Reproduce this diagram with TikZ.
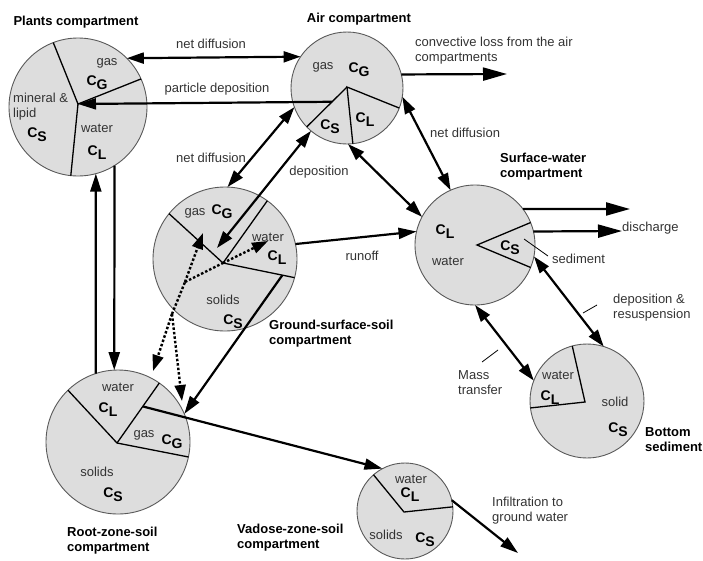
\documentclass[tikz,border=0pt]{standalone}
\usepackage{fontspec}
\setmainfont{Liberation Sans}
\usetikzlibrary{arrows.meta,calc}
\definecolor{cfill}{RGB}{221,221,221}
\newcommand\Cx[1]{C\raisebox{-4pt}{#1}}
\begin{document}
\begin{tikzpicture}[x=1pt,y=-1pt,
 comp/.style={circle, draw=black!65, line width=0.9pt, fill=cfill, inner sep=0pt, outer sep=0pt},
 sect/.style={line width=1.3pt, black},
 flow/.style={line width=2.2pt, -{Triangle[length=18pt,width=11pt]}},
 flowtwo/.style={line width=2.2pt, {Triangle[length=17pt,width=11pt]}-{Triangle[length=17pt,width=11pt]}},
 outflow/.style={line width=2.2pt, -{Triangle[length=24pt,width=13pt]}},
 dotflow/.style={line width=2.4pt, dash pattern=on 2.5pt off 2pt, -{Triangle[length=16pt,width=11pt]}},
 dotline/.style={line width=2.4pt, dash pattern=on 2.5pt off 2pt},
 tickline/.style={line width=0.8pt},
 lab/.style={font=\fontsize{13}{15}\selectfont, text=black!80, inner sep=0pt, align=left},
 ttl/.style={font=\fontsize{13}{15}\selectfont\bfseries, inner sep=0pt, align=left},
 cc/.style={font=\fontsize{14}{16}\selectfont\bfseries, inner sep=0pt},
]
\useasboundingbox (0,0) rectangle (703,560);
% compartments
\node[comp, minimum size=138pt] (plants) at (78,107) {};
\node[comp, minimum size=112pt] (air) at (347,88) {};
\node[comp, minimum size=144pt] (ground) at (225,259) {};
\node[comp, minimum size=120pt] (surface) at (475,245) {};
\node[comp, minimum size=114pt] (bottom) at (587,401) {};
\node[comp, minimum size=144pt] (root) at (118,442) {};
\node[comp, minimum size=96pt] (vadose) at (405,511) {};
% pie vertices
\coordinate (pv) at (78,104);
\coordinate (av) at (347,87);
\coordinate (gv) at (223,263);
\coordinate (sv) at (477,245);
\coordinate (bv) at (585,402);
\coordinate (rv) at (117,443);
\coordinate (vv) at (404,512);
% sectors
\draw[sect] (plants.111) -- (pv) -- (plants.24);
\draw[sect] (pv) -- (plants.264);
\draw[sect] (air.-21) -- (av) -- (air.-84);
\draw[sect] (av) -- (air.224);
\draw[sect] (ground.141) -- (gv) -- (ground.-15);
\draw[sect] (gv) -- (ground.54);
\draw[sect] (surface.22) -- (sv) -- (surface.-22);
\draw[sect] (bottom.105) -- (bv) -- (bottom.187);
\draw[sect] (root.134) -- (rv) -- (root.-12);
\draw[sect] (rv) -- (root.55);
\draw[sect] (vadose.131) -- (vv) -- (vadose.5);
% free ends
\coordinate (pdep) at ($(av)!0.37!(air.224)$);
\coordinate (gdep) at (217,248);
\coordinate (groot) at ($(gv)!0.83!(ground.-15)$);
\coordinate (rvad) at ($(rv)!0.61!(root.55)$);
\coordinate (convEnd) at (507,74);
\coordinate (disA) at (630,209);
\coordinate (disB) at (622,231);
\coordinate (infEnd) at (518,553);
\coordinate (ja) at (185,282);
\coordinate (jb) at (172,314);
\coordinate (dg) at (203,233);
\coordinate (dw) at (268,241);
\coordinate (dra) at (153,371);
\coordinate (drb) at (182,401);
% connectors
\draw[flowtwo] (plants.45) -- (air.146);
\draw[flow] (pdep) -- (pv);
\draw[outflow] (air.14) -- (convEnd);
\draw[flowtwo] (ground.88) -- (air.200);
\draw[flowtwo] (gdep) -- (air.230);
\draw[flowtwo] (air.-9) -- (surface.114);
\draw[flowtwo] (air.-89) -- (surface.152);
\draw[flow] (ground.12) -- (surface.167);
\draw[outflow] (surface.37) -- (disA);
\draw[outflow] (surface.13.5) -- (disB);
\draw[flowtwo] (surface.-11) -- (bottom.73);
\draw[flowtwo] (surface.-90) -- (bottom.159);
\draw[flow] (groot) -- (root.23);
\draw[flow] (rvad) -- (vadose.118);
\draw[flow] (vadose.13) -- (infEnd);
\draw[flow] (root.108) -- (plants.-75);
\draw[flow] (plants.-58.5) -- (root.93);
% dotted
\draw[dotflow] (ja) -- (dg);
\draw[dotline] (ja) -- (gv);
\draw[dotflow] (gv) -- (dw);
\draw[dotline] (jb) -- (ja);
\draw[dotflow] (jb) -- (dra);
\draw[dotflow] (jb) -- (drb);
% label ticks
\coordinate (tsa) at (524,239); \coordinate (tsb) at (548,256);
\coordinate (tda) at (583,313); \coordinate (tdb) at (597,305);
\coordinate (tma) at (482,362); \coordinate (tmb) at (498,350);
\draw[tickline] (tsa) -- (tsb);
\draw[tickline] (tda) -- (tdb);
\draw[tickline] (tma) -- (tmb);
% titles
\node[ttl] (tPlants) at (76,22) {Plants compartment};
\node[ttl] (tAir) at (359,19) {Air compartment};
\node[ttl, anchor=west] (tGround) at (269,334) {Ground-surface-soil\\compartment};
\node[ttl, anchor=west] (tSurface) at (500,166.5) {Surface-water\\compartment};
\node[ttl, anchor=west] (tBottom) at (645,439.5) {Bottom\\sediment};
\node[ttl, anchor=west] (tRoot) at (67,540.5) {Root-zone-soil\\compartment};
\node[ttl, anchor=west] (tVadose) at (237,537.5) {Vadose-zone-soil\\compartment};
% plant labels
\node[lab] (pgas) at (107,63) {gas};
\node[cc] (pcg) at (97,83) {\Cx{G}};
\node[lab, anchor=west] (pmin) at (13,107) {mineral \&\\lipid};
\node[cc] (pcs) at (37,135) {\Cx{S}};
\node[lab] (pwat) at (97,128) {water};
\node[cc] (pcl) at (97,153) {\Cx{L}};
% air labels
\node[lab] (agas) at (323,67) {gas};
\node[cc] (acg) at (359,70) {\Cx{G}};
\node[cc] (acs) at (330,127) {\Cx{S}};
\node[cc] (acl) at (365,120) {\Cx{L}};
% ground labels
\node[lab] (ggas) at (195,213) {gas};
\node[cc] (gcg) at (222,212) {\Cx{G}};
\node[lab] (gwat) at (268,237) {water};
\node[cc] (gcl) at (277,258) {\Cx{L}};
\node[lab] (gsol) at (223,300) {solids};
\node[cc] (gcs) at (233,322) {\Cx{S}};
% surface labels
\node[cc] (scl) at (445,232) {\Cx{L}};
\node[lab] (swat) at (448,261) {water};
\node[cc] (scs) at (510,248) {\Cx{S}};
% bottom labels
\node[lab] (bwat) at (558,375) {water};
\node[cc] (bcl) at (550,398) {\Cx{L}};
\node[lab] (bsol) at (615,402) {solid};
\node[cc] (bcs) at (618,430) {\Cx{S}};
% root labels
\node[lab] (rwat) at (118,387) {water};
\node[cc] (rcl) at (108,410) {\Cx{L}};
\node[lab] (rgas) at (144,435) {gas};
\node[cc] (rcg) at (172,442) {\Cx{G}};
\node[lab] (rsol) at (97,472) {solids};
\node[cc] (rcs) at (113,495) {\Cx{S}};
% vadose labels
\node[lab] (vwat) at (411,479) {water};
\node[cc] (vcl) at (410,495) {\Cx{L}};
\node[lab] (vsol) at (386,535) {solids};
\node[cc] (vcs) at (425,540) {\Cx{S}};
% flow labels
\node[lab] (lnd1) at (211,44) {net diffusion};
\node[lab] (lpd) at (217,89) {particle deposition};
\node[lab, anchor=west] (lconv) at (415,50.5) {convective loss from the air\\compartments};
\node[lab] (lnd2) at (211,158) {net diffusion};
\node[lab] (ldep) at (319,172) {deposition};
\node[lab, anchor=west] (lnd3) at (430,133) {net diffusion};
\node[lab] (lrun) at (362,256) {runoff};
\node[lab, anchor=west] (ldis) at (622,228) {discharge};
\node[lab, anchor=west] (lsed) at (552,259) {sediment};
\node[lab, anchor=west] (ldr) at (613,307.5) {deposition \&\\resuspension};
\node[lab, anchor=west] (lmt) at (458,382.5) {Mass\\transfer};
\node[lab, anchor=west] (linf) at (492,510.5) {Infiltration to\\ground water};
\end{tikzpicture}
\end{document}
